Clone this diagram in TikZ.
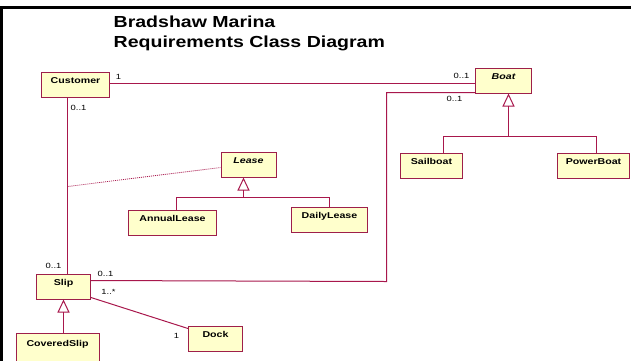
\documentclass[tikz,border=0pt]{standalone}
\usepackage{fontspec}
\usetikzlibrary{arrows.meta,calc}
\newfontfamily\titlefont[FakeStretch=1.22]{Liberation Sans}
\newfontfamily\classfont[FakeStretch=1.25]{Liberation Sans}
\definecolor{boxfill}{HTML}{FFFFCC}
\definecolor{boxline}{HTML}{9E1F4A}
\definecolor{linkred}{HTML}{A8174C}
\begin{document}
\begin{tikzpicture}[x=1pt,y=-1pt,
    every node/.style={font=\classfont\fontsize{7.5}{9}\selectfont},
    cls/.style={draw=boxline,fill=boxfill,line width=1pt,inner sep=0pt,
      minimum height=25pt,text height=5pt,text depth=7pt,
      font=\classfont\bfseries\fontsize{8.5}{10}\selectfont},
    mult/.style={inner sep=0pt},
    assoc/.style={color=linkred,line width=1pt},
    inherit/.style={assoc,-{Triangle[open,length=13pt,width=12pt]}}]
  \useasboundingbox (-0.5,-0.5) rectangle (630.5,359.5);
  \draw[line width=2.5pt] (631,7) -- (1,7) -- (1,360);
  \node[anchor=base west,inner sep=0pt,font=\titlefont\bfseries\fontsize{16}{19}\selectfont] (title1) at (113,27) {Bradshaw Marina};
  \node[anchor=base west,inner sep=0pt,font=\titlefont\bfseries\fontsize{16}{19}\selectfont] (title2) at (113,47) {Requirements Class Diagram};
  \node[cls,minimum width=68pt] (customer) at (75,84) {Customer};
  \node[cls,minimum width=56pt] (boat) at (503,80) {\itshape Boat};
  \node[cls,minimum width=62pt] (sailboat) at (431,165) {Sailboat};
  \node[cls,minimum width=72pt] (powerboat) at (593,165) {PowerBoat};
  \node[cls,minimum width=55pt] (lease) at (248,164) {\itshape Lease};
  \node[cls,minimum width=88pt] (annual) at (172,222) {AnnualLease};
  \node[cls,minimum width=76pt] (daily) at (329,219) {DailyLease};
  \node[cls,minimum width=54pt] (slip) at (63,286) {Slip};
  \node[cls,minimum width=54pt] (dock) at (215,338) {Dock};
  \node[cls,minimum width=83pt,minimum height=29pt] (covered) at (57,347) {CoveredSlip};
  \node[mult] (m1) at (118,76) {1};
  \node[mult] (m2) at (461,75) {0..1};
  \node[mult] (m3) at (454,98) {0..1};
  \node[mult] (m4) at (78,107) {0..1};
  \node[mult] (m5) at (53,265) {0..1};
  \node[mult] (m6) at (105,273) {0..1};
  \node[mult] (m7) at (108,291) {1..*};
  \node[mult] (m8) at (176,335) {1};
  \coordinate (turn) at (386,281);
  \coordinate (leaselink) at (67,186);
  \coordinate (boatbar) at (508,136);
  \coordinate (leasebar) at (243,197);
  \draw[assoc] ([yshift=1pt]customer.east) -- ([yshift=1pt]customer.east -| boat.west);
  \draw[assoc] ([xshift=-8pt]customer.south) -- ([xshift=-8pt]customer.south |- slip.north);
  \draw[assoc] ([yshift=1pt]boat.south west) -| (turn) -- ([yshift=-7pt]slip.north east);
  \draw[assoc] ([yshift=2pt]slip.south east) -- ([yshift=-3pt]dock.north west);
  \draw[assoc,densely dotted,line width=0.8pt] (leaselink) -- ([yshift=-3pt]lease.west);
  \draw[assoc] ([xshift=12pt]sailboat.north) |- (boatbar) -| ([xshift=3pt]powerboat.north);
  \draw[inherit] (boatbar) -- ([xshift=5pt]boat.south);
  \draw[assoc] ([xshift=4pt]annual.north) |- (leasebar) -| (daily.north);
  \draw[inherit] (leasebar) -- ([xshift=-5pt]lease.south);
  \draw[inherit] (covered.north -| slip.south) -- (slip.south);
\end{tikzpicture}
\end{document}
